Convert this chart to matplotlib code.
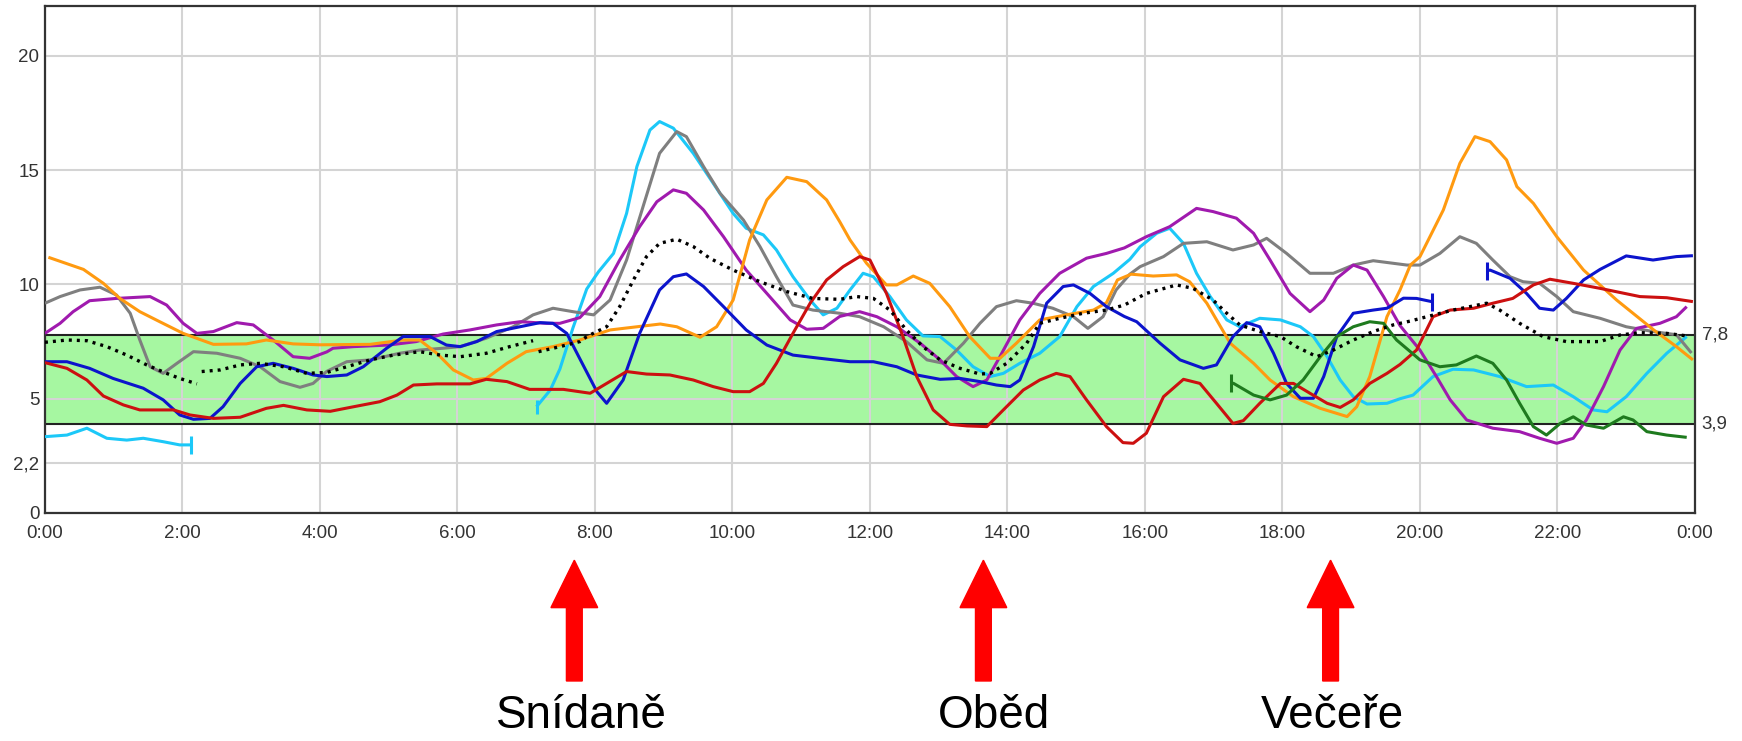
import matplotlib
matplotlib.use("Agg")
import matplotlib.pyplot as plt
import matplotlib.transforms as mtransforms
from matplotlib.patches import FancyArrow

plt.rcParams['font.family'] = ['Liberation Sans', 'DejaVu Sans']

# glucose traces (mmol/l), time in hours
cyan_a_h = [0.0, 0.32, 0.61, 0.9, 1.19, 1.43, 1.72, 1.96, 2.13]
cyan_a_v = [3.34, 3.41, 3.71, 3.27, 3.19, 3.27, 3.12, 2.98, 2.98]
cyan_b_h = [7.15, 7.35, 7.49, 7.68, 7.88, 8.05, 8.27, 8.46, 8.61, 8.8, 8.94, 9.14, 9.43, 9.72,
            10.01, 10.2, 10.45, 10.64, 10.88, 11.13, 11.32, 11.52, 11.71, 11.9, 12.05, 12.29,
            12.53, 12.77, 13.02, 13.26, 13.5, 13.75, 13.94, 14.18, 14.47, 14.76, 15.01, 15.25,
            15.54, 15.78, 15.93, 16.17, 16.36, 16.56, 16.75, 16.95, 17.19, 17.38, 17.67, 17.97,
            18.26, 18.45, 18.65, 18.84, 19.03, 19.23, 19.52, 19.71, 19.9, 20.19, 20.48, 20.78,
            21.16, 21.55, 21.94, 22.23, 22.52, 22.72, 23.0, 23.3, 23.59, 23.88]
cyan_b_v = [4.65, 5.38, 6.3, 8.1, 9.8, 10.55, 11.36, 13.11, 15.16, 16.76, 17.13, 16.84, 15.74, 14.43,
            13.11, 12.46, 12.17, 11.51, 10.34, 9.32, 8.67, 8.96, 9.76, 10.49, 10.34, 9.47,
            8.45, 7.75, 7.72, 7.13, 6.4, 5.97, 6.11, 6.55, 6.99, 7.72, 9.03, 9.91,
            10.49, 11.1, 11.65, 12.24, 12.46, 11.8, 10.49, 9.47, 8.45, 8.15, 8.52, 8.45,
            8.15, 7.72, 6.84, 5.82, 5.09, 4.77, 4.8, 5.0, 5.16, 5.97, 6.29, 6.26,
            5.97, 5.53, 5.6, 5.09, 4.51, 4.43, 5.09, 6.11, 6.99, 7.72]

gray_h = [0.0, 0.22, 0.51, 0.8, 1.04, 1.24, 1.38, 1.53, 1.72, 1.92, 2.16, 2.5, 2.84, 3.13, 3.42,
          3.71, 3.9, 4.1, 4.39, 4.73, 5.16, 5.45, 5.79, 6.04, 6.42, 6.81, 7.1, 7.39, 7.68, 7.98,
          8.22, 8.46, 8.7, 8.94, 9.19, 9.33, 9.58, 9.82, 10.16, 10.4, 10.64, 10.88, 11.17, 11.56,
          11.85, 12.2, 12.53, 12.83, 13.07, 13.36, 13.6, 13.84, 14.13, 14.37, 14.66, 14.96, 15.17,
          15.39, 15.58, 15.78, 15.93, 16.27, 16.56, 16.9, 17.28, 17.58, 17.77, 18.06, 18.4, 18.74,
          19.03, 19.32, 19.81, 20.0, 20.29, 20.58, 20.82, 21.06, 21.31, 21.5, 21.74, 21.99, 22.23,
          22.62, 23.0, 23.39, 23.73, 23.95]
gray_v = [9.18, 9.47, 9.76, 9.88, 9.54, 8.74, 7.57, 6.4, 6.11, 6.55, 7.06, 6.99, 6.77, 6.4, 5.75,
          5.5, 5.67, 6.2, 6.62, 6.7, 6.99, 7.13, 7.21, 7.28, 7.65, 8.15, 8.67, 8.96, 8.81, 8.67,
          9.32, 11.07, 13.41, 15.74, 16.69, 16.47, 15.16, 13.99, 12.82, 11.66, 10.34, 9.1, 8.88, 8.74,
          8.59, 8.15, 7.5, 6.7, 6.55, 7.43, 8.3, 9.03, 9.29, 9.18, 8.96, 8.59, 8.08,
          8.59, 9.76, 10.45, 10.78, 11.22, 11.8, 11.87, 11.51, 11.73, 12.02, 11.36, 10.49, 10.49,
          10.85, 11.04, 10.85, 10.85, 11.36, 12.09, 11.8, 11.07, 10.34, 10.12, 10.05, 9.47, 8.81,
          8.52, 8.15, 7.94, 7.8, 7.0]

purple_h = [0.0, 0.22, 0.41, 0.65, 1.04, 1.53, 1.77, 2.01, 2.21, 2.45, 2.79, 3.03, 3.32, 3.61,
            3.85, 4.1, 4.19, 4.49, 5.0, 5.4, 5.79, 6.18, 6.57, 6.91, 7.3, 7.49, 7.78, 8.07, 8.36,
            8.65, 8.9, 9.14, 9.33, 9.58, 9.87, 10.2, 10.5, 10.84, 11.08, 11.32, 11.56, 11.85,
            12.1, 12.39, 12.73, 13.02, 13.26, 13.5, 13.7, 13.89, 14.18, 14.47, 14.76, 15.15,
            15.44, 15.7, 16.02, 16.36, 16.75, 16.99, 17.33, 17.58, 17.82, 18.11, 18.4, 18.6,
            18.79, 19.03, 19.23, 19.47, 19.71, 20.0, 20.24, 20.44, 20.68, 21.06, 21.45, 21.74,
            21.99, 22.23, 22.42, 22.67, 22.91, 23.15, 23.49, 23.73, 23.88]
purple_v = [7.86, 8.3, 8.81, 9.29, 9.39, 9.47, 9.1, 8.3, 7.86, 7.94, 8.33, 8.23, 7.57, 6.84,
            6.77, 7.05, 7.21, 7.28, 7.35, 7.5, 7.83, 8.01, 8.23, 8.37, 8.3, 8.3, 8.55, 9.47, 11.07,
            12.53, 13.62, 14.14, 13.99, 13.26, 12.09, 10.63, 9.61, 8.45, 8.04, 8.08, 8.6, 8.81,
            8.59, 8.15, 7.43, 6.7, 5.97, 5.53, 5.82, 6.84, 8.45, 9.61, 10.49, 11.15,
            11.36, 11.6, 12.09, 12.53, 13.33, 13.19, 12.9, 12.24, 11.07, 9.61, 8.81, 9.32,
            10.27, 10.85, 10.63, 9.47, 8.2, 7.13, 5.97, 4.95, 4.07, 3.71, 3.56, 3.27,
            3.05, 3.27, 4.07, 5.53, 7.13, 8.08, 8.3, 8.59, 9.03]

orange_h = [0.05, 0.56, 0.85, 1.09, 1.38, 1.67, 2.01, 2.45, 2.93, 3.22, 3.61, 4.0, 4.73, 5.21,
            5.45, 5.7, 5.94, 6.23, 6.42, 6.72, 7.0, 7.39, 7.78, 8.22, 8.95, 9.19, 9.53, 9.77,
            10.01, 10.25, 10.5, 10.79, 11.08, 11.37, 11.56, 11.71, 11.95, 12.24, 12.39, 12.63,
            12.87, 13.16, 13.45, 13.75, 13.89, 14.13, 14.47, 14.86, 15.25, 15.44, 15.6, 15.8,
            16.12, 16.46, 16.65, 16.9, 17.24, 17.58, 17.82, 18.16, 18.55, 18.94, 19.08, 19.27,
            19.52, 19.71, 19.86, 20.0, 20.34, 20.58, 20.8, 21.02, 21.26, 21.41, 21.65, 21.99,
            22.38, 22.86, 23.4, 23.73, 23.97]
orange_v = [11.19, 10.66, 10.05, 9.39, 8.81, 8.37, 7.86, 7.38, 7.4, 7.57, 7.4, 7.36, 7.38, 7.57,
            7.57, 6.99, 6.26, 5.82, 5.89, 6.55, 7.06, 7.28, 7.57, 8.01, 8.27, 8.15, 7.69, 8.15,
            9.32, 11.95, 13.7, 14.69, 14.5, 13.7, 12.75, 11.95, 10.93, 9.98, 9.98, 10.37,
            10.05, 9.03, 7.72, 6.77, 6.77, 7.43, 8.45, 8.67, 8.88, 9.2, 10.2, 10.45,
            10.37, 10.42, 10.12, 9.18, 7.43, 6.55, 5.82, 5.09, 4.58, 4.22, 4.65, 5.97,
            8.59, 9.76, 10.85, 11.22, 13.26, 15.3, 16.47, 16.25, 15.45, 14.28, 13.55, 12.09,
            10.63, 9.32, 8.01, 7.28, 6.7]

blue_a_h = [0.0, 0.32, 0.65, 0.99, 1.43, 1.72, 1.96, 2.16, 2.4, 2.59, 2.84, 3.08, 3.32, 3.61,
            3.9, 4.1, 4.39, 4.63, 4.97, 5.21, 5.6, 5.84, 6.04, 6.28, 6.57, 6.91, 7.2, 7.39, 7.59,
            7.78, 8.03, 8.17, 8.41, 8.65, 8.94, 9.14, 9.33, 9.58, 9.87, 10.2, 10.5, 10.88, 11.27,
            11.71, 12.05, 12.39, 12.68, 13.02, 13.31, 13.6, 13.84, 14.04, 14.18, 14.38, 14.57,
            14.81, 14.96, 15.2, 15.44, 15.7, 15.88, 16.22, 16.51, 16.85, 17.04, 17.28, 17.48,
            17.67, 17.87, 18.06, 18.26, 18.45, 18.6, 18.79, 19.03, 19.32, 19.52, 19.76, 19.95, 20.17]
blue_a_v = [6.62, 6.62, 6.33, 5.89, 5.46, 4.95, 4.29, 4.1, 4.14, 4.65, 5.67, 6.4, 6.55, 6.33,
            6.04, 5.97, 6.04, 6.4, 7.21, 7.72, 7.72, 7.35, 7.28, 7.5, 7.94, 8.15, 8.33, 8.3, 7.86,
            6.75, 5.3, 4.8, 5.82, 7.86, 9.76, 10.34, 10.46, 9.91, 9.03, 8.01, 7.35, 6.91, 6.77,
            6.62, 6.62, 6.4, 6.04, 5.85, 5.89, 5.75, 5.6, 5.53, 5.82, 7.28, 9.18,
            9.91, 9.98, 9.61, 9.03, 8.6, 8.37, 7.43, 6.7, 6.33, 6.48, 7.72, 8.33,
            8.15, 6.99, 5.67, 5.02, 5.02, 5.97, 7.72, 8.74, 8.88, 8.96, 9.4, 9.39, 9.25]
blue_b_h = [20.98, 21.02, 21.31, 21.55, 21.74, 21.94, 22.13, 22.38, 22.62, 23.0, 23.39, 23.73, 23.97]
blue_b_v = [10.6, 10.63, 10.27, 9.61, 8.96, 8.88, 9.39, 10.2, 10.66, 11.25, 11.07, 11.22, 11.26]

red_h = [0.0, 0.32, 0.61, 0.85, 1.14, 1.38, 1.87, 2.11, 2.45, 2.84, 3.22, 3.47, 3.81, 4.15, 4.49,
         4.87, 5.12, 5.36, 5.7, 6.18, 6.42, 6.72, 7.05, 7.54, 7.93, 8.17, 8.46, 8.75, 9.09, 9.43,
         9.72, 10.01, 10.25, 10.45, 10.64, 10.88, 11.13, 11.37, 11.61, 11.85, 12.0, 12.24, 12.48,
         12.68, 12.92, 13.16, 13.41, 13.7, 13.94, 14.23, 14.47, 14.71, 14.91, 15.15, 15.44, 15.68,
         15.83, 16.02, 16.27, 16.56, 16.8, 17.04, 17.28, 17.43, 17.67, 17.97, 18.16, 18.4, 18.65,
         18.84, 19.03, 19.27, 19.52, 19.71, 19.95, 20.19, 20.44, 20.78, 21.06, 21.35, 21.65,
         21.89, 22.23, 22.62, 23.2, 23.59, 23.97]
red_v = [6.58, 6.33, 5.82, 5.12, 4.73, 4.51, 4.51, 4.29, 4.14, 4.19, 4.58, 4.71, 4.51, 4.45, 4.65,
         4.87, 5.16, 5.6, 5.65, 5.65, 5.85, 5.75, 5.41, 5.41, 5.24, 5.67, 6.19, 6.08, 6.04, 5.82,
         5.53, 5.31, 5.31, 5.67, 6.55, 7.86, 9.18, 10.2, 10.78, 11.22, 11.07, 9.61, 7.72,
         5.97, 4.51, 3.88, 3.81, 3.78, 4.51, 5.38, 5.82, 6.11, 5.97, 4.95, 3.78, 3.08,
         3.05, 3.49, 5.09, 5.85, 5.67, 4.8, 3.92, 4.04, 4.8, 5.67, 5.67, 5.24, 4.8,
         4.62, 4.95, 5.67, 6.11, 6.5, 7.13, 8.59, 8.88, 8.96, 9.18, 9.39, 9.98,
         10.23, 10.05, 9.83, 9.47, 9.42, 9.25]

green_h = [17.25, 17.29, 17.58, 17.82, 18.06, 18.3, 18.55, 18.79, 19.03, 19.27, 19.47, 19.66, 19.86,
           20.0, 20.29, 20.53, 20.82, 21.06, 21.26, 21.45, 21.65, 21.84, 22.04, 22.23, 22.42,
           22.67, 22.96, 23.1, 23.3, 23.59, 23.88]
green_v = [5.7, 5.67, 5.16, 4.95, 5.16, 5.82, 6.84, 7.72, 8.15, 8.37, 8.3, 7.57, 7.06,
           6.7, 6.4, 6.48, 6.87, 6.55, 5.82, 4.8, 3.78, 3.41, 3.92, 4.21, 3.85,
           3.71, 4.21, 4.07, 3.56, 3.41, 3.31]

# average (dotted), three pieces
avg_a_h = [0.0, 0.32, 0.61, 0.9, 1.19, 1.48, 1.77, 1.96, 2.21]
avg_a_v = [7.47, 7.57, 7.54, 7.28, 6.91, 6.48, 6.11, 5.89, 5.65]
avg_b_h = [2.28, 2.55, 2.84, 3.13, 3.47, 3.81, 4.1, 4.39, 4.73, 5.07, 5.45, 5.75, 6.04, 6.42, 6.76, 7.1]
avg_b_v = [6.19, 6.26, 6.48, 6.55, 6.4, 6.11, 6.15, 6.4, 6.7, 6.91, 7.06, 6.91, 6.84, 6.99, 7.28, 7.54]
avg_c_h = [7.18, 7.49, 7.78, 7.88, 8.17, 8.36, 8.56, 8.75, 8.94, 9.19, 9.43, 9.67, 10.01, 10.4,
           10.79, 11.17, 11.56, 11.81, 12.05, 12.29, 12.53, 12.77, 13.02, 13.31, 13.6, 13.75,
           13.99, 14.28, 14.47, 14.76, 15.1, 15.44, 15.7, 16.02, 16.46, 16.7, 16.99, 17.19,
           17.38, 17.67, 17.97, 18.2, 18.5, 18.74, 19.03, 19.32, 19.61, 19.86, 20.1, 20.48,
           20.97, 21.16, 21.45, 21.79, 22.13, 22.62, 22.91, 23.2, 23.59, 23.88]
avg_c_v = [7.06, 7.28, 7.5, 7.72, 8.15, 9.03, 10.2, 11.22, 11.8, 11.98, 11.66, 11.15, 10.63, 10.12,
           9.69, 9.39, 9.35, 9.47, 9.39, 8.88, 8.01, 7.28, 6.7, 6.33, 6.08, 6.11,
           6.55, 7.43, 8.3, 8.52, 8.74, 8.88, 9.1, 9.61, 9.98, 9.83, 9.32, 8.74,
           8.23, 7.94, 7.72, 7.28, 6.84, 7.13, 7.57, 7.94, 8.23, 8.4, 8.59, 8.88,
           9.18, 8.88, 8.3, 7.72, 7.5, 7.5, 7.79, 7.89, 7.86, 7.75]

target_low = 3.9
target_high = 7.8
yticks = [0, 2.2, 5, 10, 15, 20]
ytick_labels = ["0", "2,2", "5", "10", "15", "20"]
xticks = list(range(0, 25, 2))
xtick_labels = ["%d:00" % (h % 24) for h in xticks]

meals = ["Snídaně", "Oběd", "Večeře"]
meal_hours = [7.7, 13.65, 18.7]
meal_label_hours = [7.8, 13.8, 18.73]

fig = plt.figure(figsize=(17.42, 7.41), dpi=100)
ax = fig.add_axes([0.0258, 0.3077, 0.9472, 0.6837])

ax.axhspan(target_low, target_high, color="#a6f7a1", zorder=1, lw=0)
ax.axhline(target_low, color="#222222", lw=1.5, zorder=1.6)
ax.axhline(target_high, color="#222222", lw=1.5, zorder=1.6)

lw = 2.2
kw = dict(lw=lw, solid_joinstyle="round", solid_capstyle="butt", zorder=3)
ax.plot(cyan_a_h, cyan_a_v, color="#1cc8f8", **kw)
ax.plot(cyan_a_h[-1:], cyan_a_v[-1:], "|", color="#1cc8f8", ms=13, mew=2.2, zorder=3)
ax.plot(cyan_b_h, cyan_b_v, color="#1cc8f8", **kw)
ax.plot(cyan_b_h[:1], cyan_b_v[:1], "|", color="#1cc8f8", ms=10, mew=2.2, zorder=3)
ax.plot(gray_h, gray_v, color="#7f7f7f", **kw)
ax.plot(purple_h, purple_v, color="#a01aae", **kw)
ax.plot(orange_h, orange_v, color="#ff9a10", **kw)
ax.plot(blue_a_h, blue_a_v, color="#0c14cc", **kw)
ax.plot(blue_a_h[-1:], blue_a_v[-1:], "|", color="#0c14cc", ms=13, mew=2.2, zorder=3)
ax.plot(blue_b_h, blue_b_v, color="#0c14cc", **kw)
ax.plot(blue_b_h[:1], blue_b_v[:1], "|", color="#0c14cc", ms=13, mew=2.2, zorder=3)
ax.plot(red_h, red_v, color="#cc1010", **kw)
ax.plot(green_h, green_v, color="#1e7a1e", **kw)
ax.plot(green_h[:1], green_v[:1], "|", color="#1e7a1e", ms=13, mew=2.2, zorder=3)
for hh, vv in [(avg_a_h, avg_a_v), (avg_b_h, avg_b_v), (avg_c_h, avg_c_v)]:
    ax.plot(hh, vv, color="black", lw=2.4, linestyle=(0, (0.9, 1.5)), zorder=4)

ax.set_xlim(0, 24)
ax.set_ylim(0, 22.17)
ax.set_xticks(xticks)
ax.set_xticklabels(xtick_labels)
ax.set_yticks(yticks)
ax.set_yticklabels(ytick_labels)
ax.tick_params(length=0, labelsize=13.5, labelcolor="#333333")
ax.tick_params(axis="x", pad=9)
ax.tick_params(axis="y", pad=4)
ax.set_axisbelow("line")
ax.grid(True, color="#d4d4d4", lw=1.5)
for s in ax.spines.values():
    s.set_color("#333333")
    s.set_linewidth(1.6)

tr = mtransforms.blended_transform_factory(ax.transAxes, ax.transData)
ax.text(1.004, target_high, "7,8", transform=tr, va="center", ha="left", fontsize=13.5, color="#333333")
ax.text(1.004, target_low, "3,9", transform=tr, va="center", ha="left", fontsize=13.5, color="#333333")

# meal arrows under the chart
trf = mtransforms.blended_transform_factory(ax.transData, fig.transFigure)
for name, mh, lh in zip(meals, meal_hours, meal_label_hours):
    arr = FancyArrow(mh, 0.081, 0, 0.163, width=0.23, head_width=0.68, head_length=0.064,
                     length_includes_head=True, color="#ff0000", transform=trf, clip_on=False)
    fig.patches.append(arr)
    fig.text(lh, 0.004, name, transform=trf, ha="center", va="bottom", fontsize=33, color="black")

fig.savefig("out.png", dpi=100)
